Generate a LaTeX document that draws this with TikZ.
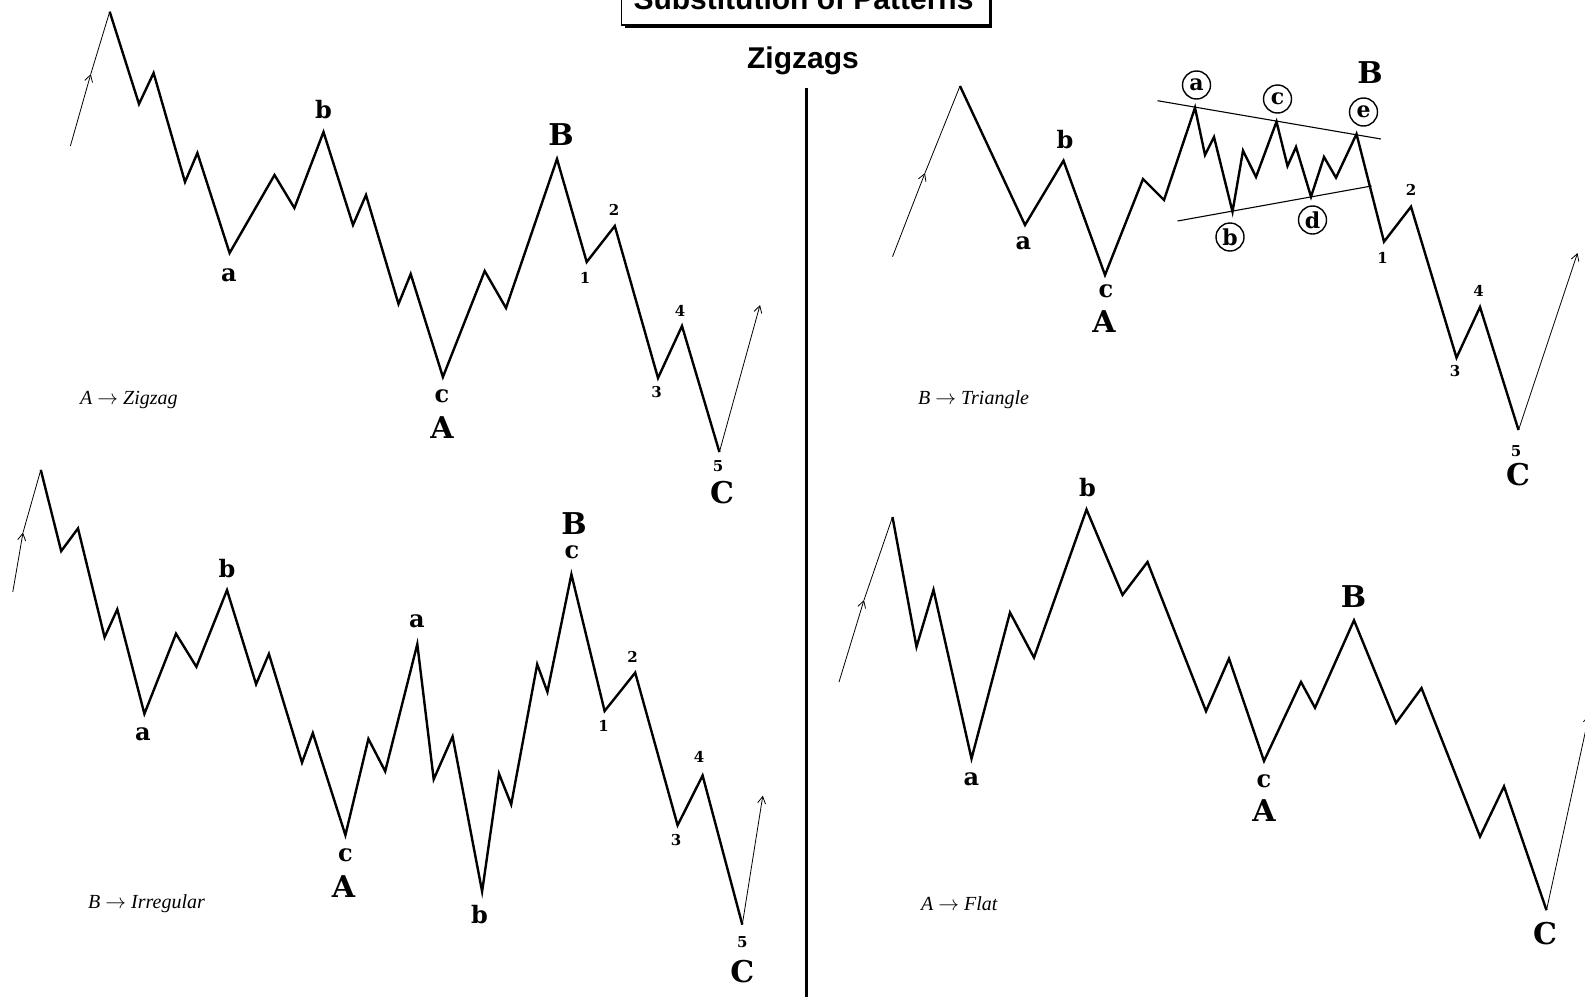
\documentclass[tikz,border=0pt]{standalone}
\usepackage{fontspec}
\setmainfont{Liberation Serif}
\newfontfamily\lblfont{DejaVu Serif}
\newfontfamily\hfont{Liberation Sans}
\usetikzlibrary{arrows.meta}
\tikzset{
  wave/.style={line width=2.4pt, line join=miter},
  thinline/.style={line width=0.8pt},
  tip/.style={-{Straight Barb[length=7pt,width=8pt]}},
  lc/.style={font=\lblfont\bfseries\fontsize{24}{24}\selectfont, inner sep=0pt},
  uc/.style={font=\lblfont\bfseries\fontsize{30}{30}\selectfont, inner sep=0pt},
  num/.style={font=\lblfont\bfseries\fontsize{15}{15}\selectfont, inner sep=0pt},
  circ/.style={circle, draw, line width=1.4pt, minimum size=28pt, inner sep=0pt, font=\lblfont\bfseries\fontsize{22}{22}\selectfont},
  note/.style={font=\itshape\fontsize{20}{20}\selectfont, anchor=west, inner sep=0pt},
  trline/.style={line width=1.1pt},
  head/.style={font=\hfont\bfseries\fontsize{30}{30}\selectfont, inner sep=0pt, anchor=base},
}
\begin{document}
\begin{tikzpicture}[x=1pt,y=-1pt]
\useasboundingbox (0,0) rectangle (1585,996);
\clip (0,0) rectangle (1585,996);

% ---------- title ----------
\fill[black] (624.5,-40) rectangle (992,28);
\draw[fill=white, line width=1.3pt] (621.7,-40) rectangle (989.3,25);
\node[head] (title) at (803.5,9.5) {Substitution of Patterns};
\node[head] (zz) at (803,68) {Zigzags};
\draw[line width=3pt] (806,88) coordinate (dv1) -- (806,1000) coordinate (dv2);

% ---------- top left: A -> Zigzag ----------
\coordinate (t0) at (70.4,146);
\coordinate (tm) at (90.8,74);
\coordinate (t1) at (109.7,11.7);
\coordinate (t2) at (139,104);
\coordinate (t3) at (153.6,73);
\coordinate (t4) at (185,182);
\coordinate (t5) at (197.4,153);
\coordinate (ta) at (229.6,253);
\coordinate (t6) at (274.5,175);
\coordinate (t7) at (294.4,208);
\coordinate (tb) at (323.5,132);
\coordinate (t8) at (353,225);
\coordinate (t9) at (366,195);
\coordinate (t10) at (398.5,304);
\coordinate (t11) at (410.7,274);
\coordinate (tA) at (442.9,377);
\coordinate (t12) at (484.7,271);
\coordinate (t13) at (506,308);
\coordinate (tB) at (557,159);
\coordinate (tw1) at (586.7,262);
\coordinate (tw2) at (614.8,226);
\coordinate (tw3) at (658,378);
\coordinate (tw4) at (682,326);
\coordinate (tC) at (719.4,452);
\coordinate (tend) at (760,305);
\draw[thinline,tip] (t0) -- (tm);
\draw[thinline] (tm) -- (t1);
\draw[wave] (t1) -- (t2) -- (t3) -- (t4) -- (t5) -- (ta) -- (t6) -- (t7) -- (tb) -- (t8) -- (t9) -- (t10) -- (t11) -- (tA) -- (t12) -- (t13) -- (tB) -- (tw1) -- (tw2) -- (tw3) -- (tw4) -- (tC);
\draw[thinline,tip] (tC) -- (tend);
\node[lc] (tLb) at (323.5,110) {b};
\node[lc] (tLa) at (229,275) {a};
\node[uc] (tLB) at (561,135) {B};
\node[num] (tL1) at (585,278) {1};
\node[num] (tL2) at (614,210) {2};
\node[num] (tL3) at (656.6,392) {3};
\node[num] (tL4) at (680,311) {4};
\node[num] (tL5) at (718,466) {5};
\node[uc] (tLC) at (722,493) {C};
\node[lc] (tLc) at (442,396) {c};
\node[uc] (tLA) at (442,428) {A};
\node[note] (tN) at (80,400) {A $\rightarrow$ Zigzag};

% ---------- top right: B -> Triangle ----------
\coordinate (r0) at (892.5,256.7);
\coordinate (rm) at (925,173);
\coordinate (r1) at (960,86);
\coordinate (ra) at (1025,225);
\coordinate (rb) at (1063.5,160.7);
\coordinate (rA) at (1105,275);
\coordinate (r2) at (1143,179);
\coordinate (r3) at (1164,200);
\coordinate (rta) at (1195,107.7);
\coordinate (r4) at (1205,155);
\coordinate (r5) at (1214,137);
\coordinate (rtb) at (1232.5,211.7);
\coordinate (r6) at (1243,150.7);
\coordinate (r7) at (1256,177);
\coordinate (rtc) at (1276.5,121.7);
\coordinate (r8) at (1287.5,166);
\coordinate (r9) at (1296,147);
\coordinate (rtd) at (1311,196.7);
\coordinate (r10) at (1324,157);
\coordinate (r11) at (1336,177.7);
\coordinate (rte) at (1356.5,134);
\coordinate (rw1) at (1384,241.7);
\coordinate (rw2) at (1411,206.7);
\coordinate (rw3) at (1456.5,357.7);
\coordinate (rw4) at (1480,307);
\coordinate (rC) at (1518.5,430);
\coordinate (rend) at (1577.5,253);
\coordinate (ru1) at (1157.5,100.7);
\coordinate (ru2) at (1381,139);
\coordinate (rl1) at (1177.5,221);
\coordinate (rl2) at (1371.5,186);
\draw[thinline,tip] (r0) -- (rm);
\draw[thinline] (rm) -- (r1);
\draw[trline] (ru1) -- (ru2);
\draw[trline] (rl1) -- (rl2);
\draw[wave] (r1) -- (ra) -- (rb) -- (rA) -- (r2) -- (r3) -- (rta) -- (r4) -- (r5) -- (rtb) -- (r6) -- (r7) -- (rtc) -- (r8) -- (r9) -- (rtd) -- (r10) -- (r11) -- (rte) -- (rw1) -- (rw2) -- (rw3) -- (rw4) -- (rC);
\draw[thinline,tip] (rC) -- (rend);
\node[circ] (rca) at (1196.5,85) {a};
\node[circ] (rcb) at (1230,237) {b};
\node[circ] (rcc) at (1277.5,99) {c};
\node[circ] (rcd) at (1312.5,220) {d};
\node[circ] (rce) at (1363.5,112) {e};
\node[uc] (rLB) at (1370,73) {B};
\node[lc] (rLb) at (1065,140) {b};
\node[lc] (rLa) at (1023.5,243) {a};
\node[lc] (rLc) at (1106,291) {c};
\node[uc] (rLA) at (1104,322) {A};
\node[num] (rL1) at (1382.5,258) {1};
\node[num] (rL2) at (1411,190) {2};
\node[num] (rL3) at (1455,371) {3};
\node[num] (rL4) at (1478.5,291) {4};
\node[num] (rL5) at (1516,451) {5};
\node[uc] (rLC) at (1518,475) {C};
\node[note] (rN) at (918,400) {B $\rightarrow$ Triangle};

% ---------- bottom left: B -> Irregular ----------
\coordinate (l0) at (12.8,591.9);
\coordinate (lm) at (23,532.6);
\coordinate (l1) at (40.8,469.9);
\coordinate (l2) at (61.2,551.1);
\coordinate (l3) at (78,528.4);
\coordinate (l4) at (104.6,637.2);
\coordinate (l5) at (117.3,609.3);
\coordinate (la) at (144.4,713.8);
\coordinate (l6) at (176,633.7);
\coordinate (l7) at (196.4,666.8);
\coordinate (lb) at (227,590.1);
\coordinate (l8) at (256.1,684.2);
\coordinate (l9) at (268.9,653.9);
\coordinate (l10) at (302,762.6);
\coordinate (l11) at (312.8,733);
\coordinate (lA) at (345.4,835.1);
\coordinate (l12) at (368.4,738.9);
\coordinate (l13) at (385.2,771.3);
\coordinate (la2) at (417.3,644.1);
\coordinate (l14) at (433.7,779.3);
\coordinate (l15) at (452.6,736.5);
\coordinate (lb2) at (482.1,891.5);
\coordinate (l16) at (499,773.7);
\coordinate (l17) at (511.2,804.4);
\coordinate (l18) at (537.2,664.3);
\coordinate (l19) at (547.4,691.9);
\coordinate (lB) at (571.4,574.4);
\coordinate (lw1) at (604.6,711);
\coordinate (lw2) at (635.2,672.7);
\coordinate (lw3) at (677.6,825.3);
\coordinate (lw4) at (702.6,775.5);
\coordinate (lC) at (742.3,924.6);
\coordinate (lend) at (762.8,795.7);
\draw[thinline,tip] (l0) -- (lm);
\draw[thinline] (lm) -- (l1);
\draw[wave] (l1) -- (l2) -- (l3) -- (l4) -- (l5) -- (la) -- (l6) -- (l7) -- (lb) -- (l8) -- (l9) -- (l10) -- (l11) -- (lA) -- (l12) -- (l13) -- (la2) -- (l14) -- (l15) -- (lb2) -- (l16) -- (l17) -- (l18) -- (l19) -- (lB) -- (lw1) -- (lw2) -- (lw3) -- (lw4) -- (lC);
\draw[thinline,tip] (lC) -- (lend);
\node[lc] (lLb) at (227,569) {b};
\node[lc] (lLa) at (143,734) {a};
\node[lc] (lLa2) at (416.8,621) {a};
\node[lc] (lLc) at (345.4,855) {c};
\node[uc] (lLA) at (343.4,887) {A};
\node[lc] (lLb2) at (479.6,915) {b};
\node[uc] (lLB) at (574,524) {B};
\node[lc] (lLc2) at (572,552) {c};
\node[num] (lL1) at (603.6,726) {1};
\node[num] (lL2) at (632.7,657) {2};
\node[num] (lL3) at (676,840) {3};
\node[num] (lL4) at (699,757) {4};
\node[num] (lL5) at (742.3,942) {5};
\node[uc] (lLC) at (742.3,972) {C};
\node[note] (lN) at (88,904) {B $\rightarrow$ Irregular};

% ---------- bottom right: A -> Flat ----------
\coordinate (f0) at (839,682);
\coordinate (fm) at (864,600);
\coordinate (f1) at (892.5,517);
\coordinate (f2) at (916.5,646.8);
\coordinate (f3) at (933.5,589.8);
\coordinate (fa) at (971.5,758.6);
\coordinate (f4) at (1010,612.5);
\coordinate (f5) at (1034,657.6);
\coordinate (fb) at (1086.5,509.5);
\coordinate (f6) at (1122.5,594.9);
\coordinate (f7) at (1147.5,562);
\coordinate (f8) at (1206,711.2);
\coordinate (f9) at (1229,658.6);
\coordinate (fA) at (1264,761);
\coordinate (f10) at (1301,682);
\coordinate (f11) at (1315,707.8);
\coordinate (fB) at (1354,620.3);
\coordinate (f12) at (1396,723);
\coordinate (f13) at (1421.5,688.1);
\coordinate (f14) at (1480,836.6);
\coordinate (f15) at (1504,786.4);
\coordinate (fC) at (1546.5,910.2);
\coordinate (fend) at (1589,715);
\draw[thinline,tip] (f0) -- (fm);
\draw[thinline] (fm) -- (f1);
\draw[wave] (f1) -- (f2) -- (f3) -- (fa) -- (f4) -- (f5) -- (fb) -- (f6) -- (f7) -- (f8) -- (f9) -- (fA) -- (f10) -- (f11) -- (fB) -- (f12) -- (f13) -- (f14) -- (f15) -- (fC);
\draw[thinline,tip] (fC) -- (fend);
\node[lc] (fLb) at (1087.5,488) {b};
\node[lc] (fLa) at (971.5,779) {a};
\node[uc] (fLB) at (1353.5,597) {B};
\node[lc] (fLc) at (1264,781) {c};
\node[uc] (fLA) at (1264,811) {A};
\node[uc] (fLC) at (1545,934) {C};
\node[note] (fN) at (921,904) {A $\rightarrow$ Flat};
\end{tikzpicture}
\end{document}
